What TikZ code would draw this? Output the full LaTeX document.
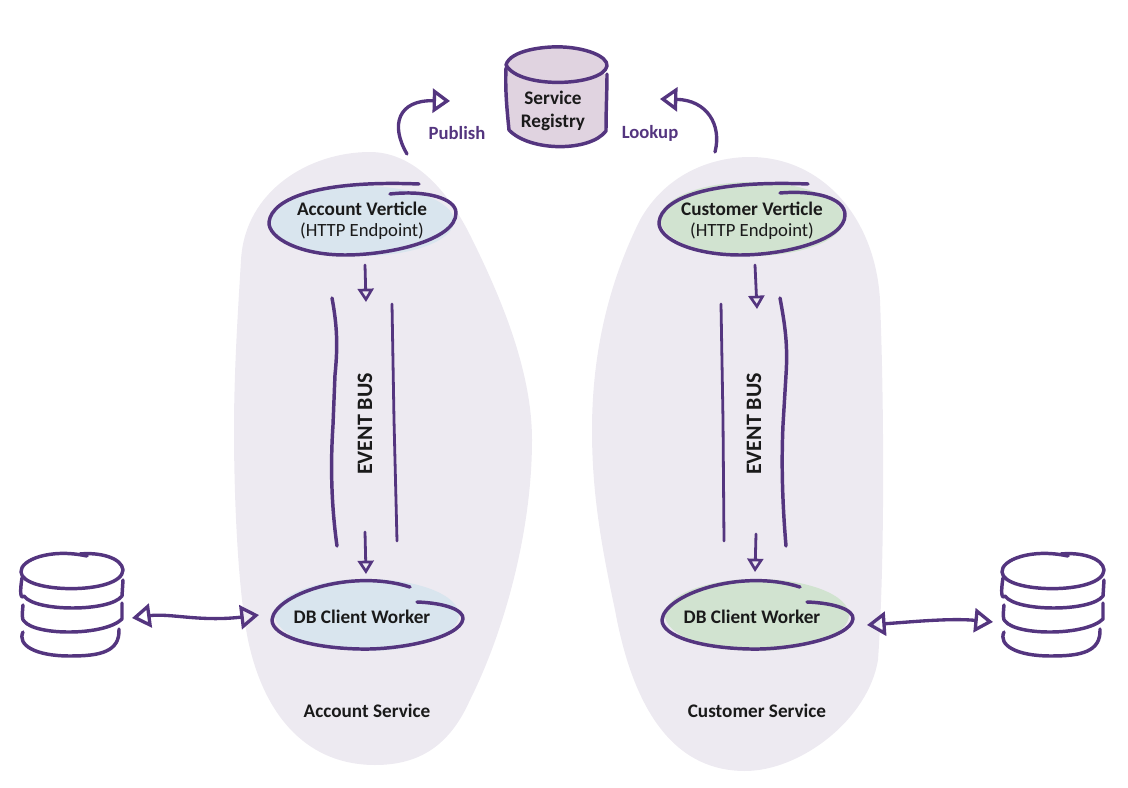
\documentclass[tikz,border=0pt]{standalone}
\usepackage{fontspec}
\setmainfont{Carlito}
\usetikzlibrary{arrows.meta}
\definecolor{ink}{HTML}{54357F}
\definecolor{blob}{HTML}{EDEAF1}
\definecolor{bluef}{HTML}{D9E5EE}
\definecolor{greenf}{HTML}{D1E3D0}
\definecolor{regf}{HTML}{E0D3E0}
\definecolor{txt}{HTML}{1A1A1A}
\tikzset{
 sk/.style={draw=ink,line width=2.6pt,line cap=round,line join=round},
 skthin/.style={draw=ink,line width=2.1pt,line cap=round,line join=round},
 bigarrow/.style={sk,line width=2.5pt,-{Triangle[open,length=13pt,width=18pt,line width=2.5pt]}},
 bothway/.style={sk,line width=2.5pt,{Triangle[open,length=14pt,width=18pt,line width=2.5pt]}-{Triangle[open,length=14pt,width=18pt,line width=2.5pt]}},
 smallarrow/.style={skthin,-{Triangle[open,length=10pt,width=12pt,line width=2pt]}},
 lab/.style={text=txt,font=\fontsize{14.4}{17}\selectfont\bfseries,align=center,inner sep=0pt},
 sub/.style={text=txt,font=\fontsize{14}{17}\selectfont,align=center,inner sep=0pt},
 pur/.style={text=ink,font=\fontsize{14}{17}\selectfont\bfseries,inner sep=0pt},
 busl/.style={text=txt,font=\fontsize{16.5}{18}\selectfont\bfseries,inner sep=0pt,rotate=90},
}
\begin{document}
\begin{tikzpicture}[x=0.75pt,y=-0.75pt]
\useasboundingbox (0,0) rectangle (1128,788);
% service blobs
\fill[blob] (370,152) .. controls (410,152) and (445,185) .. (470,235) .. controls (505,305) and (532,375) .. (532,440) .. controls (532,530) and (505,630) .. (470,700) .. controls (450,745) and (420,765) .. (375,765) .. controls (310,765) and (265,720) .. (248,640) .. controls (238,590) and (234,500) .. (234,430) .. controls (234,370) and (238,310) .. (241,260) .. controls (245,190) and (310,152) .. (370,152) -- cycle;
\fill[blob] (750,157) .. controls (820,157) and (875,215) .. (880,300) .. controls (884,400) and (885,560) .. (878,660) .. controls (868,720) and (800,771) .. (745,771) .. controls (680,771) and (635,720) .. (615,610) .. controls (600,540) and (592,490) .. (592,430) .. controls (592,350) and (610,280) .. (640,220) .. controls (665,175) and (710,157) .. (750,157) -- cycle;
% registry
\path[fill=regf,sk] (506,68) .. controls (505,90) and (507,110) .. (509,130) .. controls (530,152) and (590,152) .. (606,131) .. controls (606,110) and (607,90) .. (607,74);
\path[fill=regf,sk] (506,65) .. controls (510,50) and (545,46) .. (563,47) .. controls (585,48) and (608,56) .. (607,66) .. controls (603,86) and (520,90) .. (506,65) -- cycle;
\node[lab] (reg) at (553,111) {Service\\[0.5pt]Registry};
% vertical ellipses
\fill[bluef] (362,221) ellipse [x radius=92,y radius=35];
\draw[sk] (390,194) .. controls (425,190) and (456,198) .. (456,213) .. controls (456,240) and (390,255) .. (345,255) .. controls (300,255) and (268,238) .. (269,222) .. controls (272,198) and (320,180) .. (419,184);
\node[lab] (accv) at (362,209) {Account Verticle};
\node[sub] (acch) at (362,231) {(HTTP Endpoint)};
\fill[greenf] (752,219) ellipse [x radius=92,y radius=37];
\draw[sk] (780,193) .. controls (815,190) and (845,198) .. (845,215) .. controls (845,240) and (785,255) .. (740,255) .. controls (695,255) and (658,240) .. (659,222) .. controls (662,198) and (710,180) .. (808,184);
\node[lab] (cusv) at (752,209) {Customer Verticle};
\node[sub] (cush) at (752,231) {(HTTP Endpoint)};
% worker ellipses
\fill[bluef] (367,615) ellipse [x radius=92,y radius=36];
\draw[sk] (417,602) .. controls (445,603) and (464,610) .. (463,619) .. controls (460,638) and (400,650) .. (360,649) .. controls (310,648) and (272,636) .. (272,620) .. controls (274,595) and (350,568) .. (410,587);
\node[lab] (accw) at (362,617) {DB Client Worker};
\fill[greenf] (757,615) ellipse [x radius=92,y radius=36];
\draw[sk] (807,602) .. controls (835,603) and (854,610) .. (853,619) .. controls (850,638) and (790,650) .. (750,649) .. controls (700,648) and (662,636) .. (662,620) .. controls (664,595) and (740,568) .. (800,587);
\node[lab] (cusw) at (752,617) {DB Client Worker};
% event bus rails
\draw[sk] (332,298) .. controls (337,325) and (338,345) .. (335,375) -- (333,425) .. controls (330,470) and (332,510) .. (337,546);
\draw[skthin] (392,304) -- (394,420) -- (397,541);
\draw[skthin] (721,304) -- (723,420) -- (724,541);
\draw[sk] (780,298) .. controls (785,325) and (788,345) .. (786,375) -- (783,425) .. controls (781,470) and (783,510) .. (786,546);
\node[busl] (busa) at (365,424) {EVENT BUS};
\node[busl] (busb) at (754,424) {EVENT BUS};
% small arrows
\coordinate (a1s) at (365,265); \coordinate (a1e) at (366,302);
\coordinate (a2s) at (365,532); \coordinate (a2e) at (366,574);
\coordinate (a3s) at (755,265); \coordinate (a3e) at (757,309);
\coordinate (a4s) at (756,534); \coordinate (a4e) at (755,572);
\draw[smallarrow] (a1s) -- (a1e);
\draw[smallarrow] (a2s) -- (a2e);
\draw[smallarrow] (a3s) -- (a3e);
\draw[smallarrow] (a4s) -- (a4e);
% publish and lookup
\coordinate (pubs) at (407,154); \coordinate (pube) at (450,101);
\coordinate (lkps) at (715,152); \coordinate (lkpe) at (660,99);
\draw[bigarrow] (pubs) .. controls (390,125) and (398,100) .. (pube);
\draw[bigarrow] (lkps) .. controls (722,125) and (707,100) .. (lkpe);
\node[pur] (pub) at (457,133) {Publish};
\node[pur] (lkp) at (650,133) {Lookup};
% databases
\foreach \nm/\dx in {dbl/0,dbr/981}{
\begin{scope}[xshift=\dx*0.75pt]
\draw[sk] (87,556) .. controls (50,548) and (20,560) .. (21,572) .. controls (22,594) and (122,595) .. (123,570) .. controls (122,558) and (100,552) .. (80,554);
\draw[sk] (22,578) .. controls (20,590) and (20,600) .. (24,596) .. controls (35,612) and (110,612) .. (122,596) -- (123,580);
\draw[sk] (23,605) .. controls (22,615) and (22,620) .. (24,621) .. controls (35,636) and (105,636) .. (122,619) -- (122,603);
\draw[sk] (23,632) .. controls (17,645) and (35,656) .. (70,656) .. controls (100,656) and (120,652) .. (119,629);
\end{scope}}
% db connectors
\coordinate (dl1) at (132,618); \coordinate (dl2) at (259,615);
\coordinate (dr1) at (867,625); \coordinate (dr2) at (993,622);
\draw[bothway] (dl1) .. controls (170,613) and (200,622) .. (dl2);
\draw[bothway] (dr1) .. controls (910,622) and (950,618) .. (dr2);
% service labels
\node[lab] (accs) at (367,711) {Account Service};
\node[lab] (cuss) at (757,711) {Customer Service};
\end{tikzpicture}
\end{document}
